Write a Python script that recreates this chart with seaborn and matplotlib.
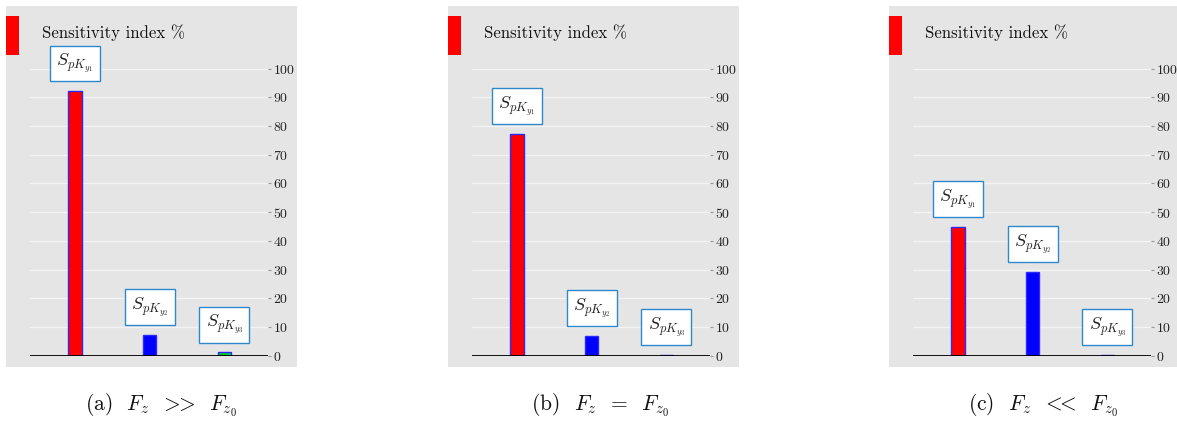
import matplotlib
matplotlib.use("Agg")
import matplotlib.pyplot as plt
import seaborn as sns
import pandas as pd
from matplotlib.patches import Rectangle

# ---- data ----
categories = ["Ky1", "Ky2", "Ky3"]
labels = [r"$S_{pK_{y_1}}$", r"$S_{pK_{y_2}}$", r"$S_{pK_{y_3}}$"]
values_a = [92.2, 7.2, 1.2]
values_b = [77.4, 7.0, 0.3]
values_c = [45.0, 29.2, 0.3]
colors_a = ["#ff0000", "#0000ff", "#00cc22"]
colors_b = ["#ff0000", "#0000ff", "#0000ff"]
colors_c = ["#ff0000", "#0000ff", "#0000ff"]
captions = [r"(a)  $F_z\;\;>\!\!\!>\;\;F_{z_0}$", r"(b)  $F_z\;\;=\;\;F_{z_0}$",
            r"(c)  $F_z\;\;<\!\!\!<\;\;F_{z_0}$"]
title = "Sensitivity index %"
yticks = list(range(0, 101, 10))

sns.set_theme(style="white")
plt.rcParams["font.family"] = ["cmr10", "DejaVu Serif"]
plt.rcParams["mathtext.fontset"] = "cm"
plt.rcParams["axes.formatter.use_mathtext"] = True

W, H = 1177, 421
fig = plt.figure(figsize=(W / 100, H / 100), dpi=100)

def px_rect(x0, y0, x1, y1):
    # pixel box (top-left origin) -> figure fraction [l, b, w, h]
    return [x0 / W, (H - y1) / H, (x1 - x0) / W, (y1 - y0) / H]

offsets = [6, 448, 889]
caption_x = [161, 600, 1043]
panels = [(values_a, colors_a), (values_b, colors_b), (values_c, colors_c)]
bg = "#e5e5e5"

for i, (ox, (vals, cols)) in enumerate(zip(offsets, panels)):
    # background panel
    bga = fig.add_axes(px_rect(ox, 6, ox + 291, 367))
    bga.set_facecolor(bg)
    bga.set_xticks([]); bga.set_yticks([])
    for s in bga.spines.values():
        s.set_visible(False)
    bga.add_patch(Rectangle((0, 1 - 49 / 361), 13 / 291, 39 / 361,
                            transform=bga.transAxes, color="#ff0000", lw=0))
    bga.text(36 / 291, 1 - 27 / 361, title, transform=bga.transAxes,
             fontsize=12.1, va="center", ha="left", color="#111111")

    # data axes
    ax = fig.add_axes(px_rect(ox + 24, 68.7, ox + 262, 355.7))
    ax.patch.set_alpha(0)
    df = pd.DataFrame({"cat": categories, "val": vals})
    sns.barplot(data=df, x="cat", y="val", hue="cat", palette=cols,
                saturation=1, width=0.175, edgecolor="#2a2aff", linewidth=1.0,
                legend=False, ax=ax, zorder=3)
    ax.set_xlim(-0.602, 2.582)
    ax.set_ylim(0, 100)
    ax.set_yticks(yticks)
    ax.yaxis.tick_right()
    ax.tick_params(axis="y", length=2, width=0.8, color="#999999", pad=1.5,
                   labelsize=10, labelcolor="#222222", right=True, left=False)
    ax.set_xticks([])
    ax.set_xlabel(""); ax.set_ylabel("")
    for s in ax.spines.values():
        s.set_visible(False)
    ax.yaxis.grid(True, color="#f4f4f4", lw=1.0, zorder=0)
    ax.set_axisbelow(True)
    ax.axhline(0, color="black", lw=1.3, zorder=4)

    for j, (v, lab) in enumerate(zip(vals, labels)):
        ax.annotate(lab, xy=(j, v), xytext=(0, 16), textcoords="offset pixels",
                    ha="center", va="bottom", fontsize=13, color="#222222",
                    annotation_clip=False, zorder=5,
                    bbox=dict(boxstyle="square,pad=0.35", fc="white",
                              ec="#3088cc", lw=1.0))

    fig.text(caption_x[i] / W, 1 - 405 / H, captions[i], ha="center",
             va="center", fontsize=15.5, color="#111111")

fig.savefig("out.png", dpi=100)
